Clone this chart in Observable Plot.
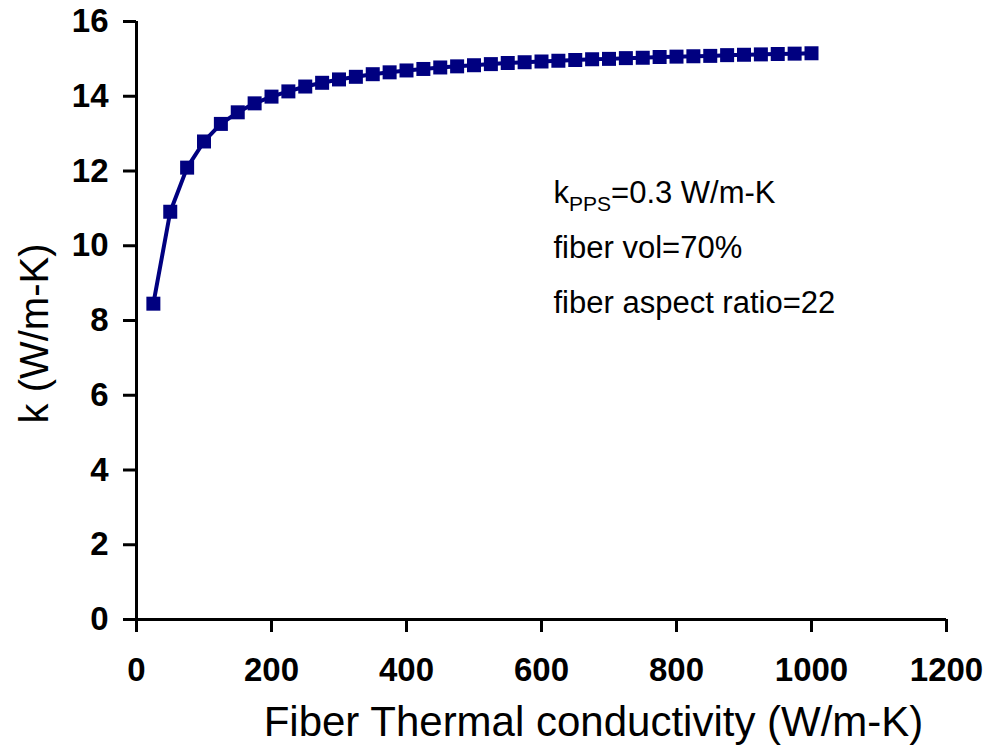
<!DOCTYPE html>
<html><head><meta charset="utf-8">
<script src="https://cdn.jsdelivr.net/npm/d3@7"></script>
<script src="https://cdn.jsdelivr.net/npm/@observablehq/plot@0.6"></script>
<style>
html,body{margin:0;padding:0;background:#fff;}
#chart svg{display:block;}
</style>
</head><body><div id="chart"></div>
<script>
const fiberConductivity = [25,50,75,100,125,150,175,200,225,250,275,300,325,350,375,400,425,450,475,500,525,550,575,600,625,650,675,700,725,750,775,800,825,850,875,900,925,950,975,1000];
const compositeK = [8.45,10.91,12.09,12.79,13.26,13.57,13.81,13.99,14.13,14.26,14.36,14.45,14.52,14.59,14.64,14.69,14.73,14.77,14.80,14.83,14.86,14.89,14.91,14.93,14.95,14.97,14.99,15.00,15.02,15.03,15.05,15.06,15.07,15.08,15.10,15.11,15.12,15.13,15.14,15.15];
const xTicks = [0,200,400,600,800,1000,1200];
const yTicks = [0,2,4,6,8,10,12,14,16];
const xTitle = "Fiber Thermal conductivity (W/m-K)";
const yTitle = "k (W/m-K)";
const note1Parts = ["k","PPS","=0.3 W/m-K"];
const note2 = "fiber vol=70%";
const note3 = "fiber aspect ratio=22";

const data = fiberConductivity.map((x, i) => ({x, k: compositeK[i]}));
const note1 = note1Parts.join("");
const navy = "#000080";

const chart = Plot.plot({
  width: 992, height: 753,
  marginLeft: 136, marginRight: 46, marginTop: 21, marginBottom: 134,
  style: {fontFamily: "'Liberation Sans', Arial, sans-serif", background: "#fff", color: "#000"},
  x: {domain: [0, 1200]},
  y: {domain: [0, 16]},
  marks: [
    Plot.axisX({ticks: xTicks, tickFormat: d => String(d), tickSize: 13, tickPadding: 25, fontSize: 33, fontWeight: "bold", strokeWidth: 3, label: null}),
    Plot.axisY({ticks: yTicks, tickFormat: d => String(d), tickSize: 13, tickPadding: 15, fontSize: 33, fontWeight: "bold", strokeWidth: 3, label: null}),
    Plot.ruleY([0], {stroke: "#000", strokeWidth: 3}),
    Plot.ruleX([0], {stroke: "#000", strokeWidth: 3}),
    Plot.line(data, {x: "x", y: "k", stroke: navy, strokeWidth: 4}),
    Plot.dot(data, {x: "x", y: "k", symbol: "square", r: 7.9, fill: navy, stroke: "none"}),
    Plot.text([xTitle], {text: d => d, frameAnchor: "bottom", dx: 52, dy: 116, lineAnchor: "bottom", fontSize: 42}),
    Plot.text([yTitle], {text: d => d, frameAnchor: "left", dx: -89, dy: 13, rotate: -90, lineAnchor: "bottom", textAnchor: "middle", fontSize: 40}),
    Plot.text([note1], {text: d => d, frameAnchor: "top-left", dx: 417, dy: 181, lineAnchor: "bottom", textAnchor: "start", fontSize: 31}),
    Plot.text([note2], {text: d => d, frameAnchor: "top-left", dx: 417, dy: 236, lineAnchor: "bottom", textAnchor: "start", fontSize: 31}),
    Plot.text([note3], {text: d => d, frameAnchor: "top-left", dx: 417, dy: 291, lineAnchor: "bottom", textAnchor: "start", fontSize: 31})
  ]
});

// subscript for k_PPS
const t = Array.from(chart.querySelectorAll("text")).find(el => el.textContent === note1);
if (t) {
  t.textContent = "";
  const ns = "http://www.w3.org/2000/svg";
  const a = document.createElementNS(ns, "tspan"); a.textContent = note1Parts[0];
  const b = document.createElementNS(ns, "tspan"); b.textContent = note1Parts[1];
  b.setAttribute("font-size", "21"); b.setAttribute("dy", "8");
  const c = document.createElementNS(ns, "tspan"); c.textContent = note1Parts[2];
  c.setAttribute("dy", "-8");
  t.append(a, b, c);
}
document.getElementById("chart").append(chart);
</script>
</body></html>
